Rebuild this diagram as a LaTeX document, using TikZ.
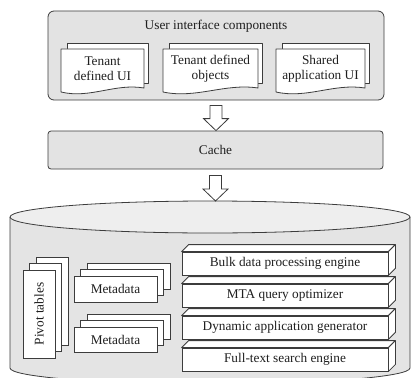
\documentclass[tikz,border=0pt]{standalone}
\usepackage{fontspec}
\setmainfont{Liberation Serif}
\usetikzlibrary{calc}

\definecolor{inkline}{HTML}{3C3C3C}
\definecolor{inktext}{HTML}{1E1E1E}
\definecolor{panelgray}{HTML}{E3E3E3}
\definecolor{dbbody}{HTML}{E4E4E4}
\definecolor{dbtop}{HTML}{EEEEEE}

\tikzset{
  edge/.style={draw=inkline, line width=0.8pt},
  txt/.style={text=inktext, font=\fontsize{13.3}{15}\selectfont, inner sep=0pt},
  panel/.style={edge, fill=panelgray, inner sep=0pt},
  sheet/.style={edge, fill=white, line join=round},
  card/.style={edge, fill=white, inner sep=0pt},
  blockarrow/.style={edge, fill=white, line join=miter},
}

% hollow block arrow from a start point down to a tip
\newcommand\hollowarrow[2]{%
  \draw[blockarrow] let \p1=(#1), \p2=(#2) in
    (\x1-6pt,\y1) -- (\x1+6pt,\y1) -- (\x1+6pt,\y2+12pt) -- (\x1+12.5pt,\y2+12pt)
    -- (\x1,\y2) -- (\x1-12.5pt,\y2+12pt) -- (\x1-6pt,\y2+12pt) -- cycle;}

% document page with a second page behind it; #1 name, #2 left, #3 right, #4 text
\newcommand\docpage[4]{%
  \draw[sheet] ({#2+6},-43) rectangle ({#3+4},-83);
  \draw[sheet] (#2,-49) -- (#3,-49) -- (#3,-88)
    .. controls ({#3-0.35*(#3-#2)},-83) and ({#2+0.35*(#3-#2)},-99) .. (#2,-92) -- cycle;
  \node[txt, align=center] (#1) at ({(#2+#3)/2},-68.5) {#4};}

% one engine block: front face with top and side faces
\newcommand\engine[3]{%
  \node[card, txt, draw=inkline, fill=white, minimum width=206pt, minimum height=23pt] (#1) at (285,#2) {#3};
  \draw[sheet] (#1.north west) -- ++(7,7) -- ($(#1.north east)+(7,7)$) -- (#1.north east) -- cycle;
  \draw[sheet] (#1.north east) -- ++(7,7) -- ($(#1.south east)+(7,7)$) -- (#1.south east) -- cycle;}

\begin{document}
\begin{tikzpicture}[x=1pt, y=1pt]
\useasboundingbox (0,0) rectangle (411,-377);
\clip (0,0) rectangle (411,-377);

% user interface layer
\node[panel, rounded corners=6pt, minimum width=336pt, minimum height=89pt] (ui) at (216,-55.5) {};
\node[txt] (uititle) at (216,-26) {User interface components};
\docpage{tenantui}{61}{144}{Tenant\\defined UI}
\docpage{tenantobj}{163}{258}{Tenant defined\\objects}
\docpage{sharedui}{276}{365}{Shared\\application UI}

% cache layer
\node[panel, txt, rounded corners=3pt, minimum width=335pt, minimum height=38pt] (cache) at (215.5,-150) {Cache};

% database cylinder
\fill[dbbody] (10,-217) -- (10,-368) arc[start angle=180, end angle=360, x radius=200, y radius=16]
  -- (410,-217) -- cycle;
\draw[edge] (10,-217) -- (10,-368) arc[start angle=180, end angle=360, x radius=200, y radius=16]
  -- (410,-217);
\draw[edge, fill=dbtop] (210,-217) ellipse[x radius=200, y radius=16];
\coordinate (dbtopc) at (215,-201);

% arrows between the layers
\coordinate (a1) at ($(ui.south)+(0,-5)$);
\hollowarrow{a1}{cache.north}
\coordinate (a2) at ($(cache.south)+(0,-6)$);
\hollowarrow{a2}{dbtopc}

% pivot tables
\draw[card] (36,-257) rectangle (68,-345);
\draw[card] (29.5,-263.5) rectangle (61.5,-351.5);
\node[card, minimum width=32pt, minimum height=88pt] (pivot) at (39,-314) {};
\node[txt, rotate=90] (pivotlbl) at (pivot.center) {Pivot tables};

% metadata stacks
\draw[card] (87,-263) rectangle (170,-289);
\draw[card] (80.5,-269.5) rectangle (163.5,-295.5);
\node[card, txt, minimum width=83pt, minimum height=26pt] (meta1) at (115.5,-289) {Metadata};
\draw[card] (87,-314) rectangle (170,-339);
\draw[card] (80.5,-320.5) rectangle (163.5,-345.5);
\node[card, txt, minimum width=83pt, minimum height=25pt] (meta2) at (115.5,-339.5) {Metadata};

% engine stack
\engine{bulk}{-263.5}{Bulk data processing engine}
\engine{mta}{-295.5}{MTA query optimizer}
\engine{dyn}{-327.5}{Dynamic application generator}
\engine{fts}{-359.5}{Full-text search engine}
\end{tikzpicture}
\end{document}
